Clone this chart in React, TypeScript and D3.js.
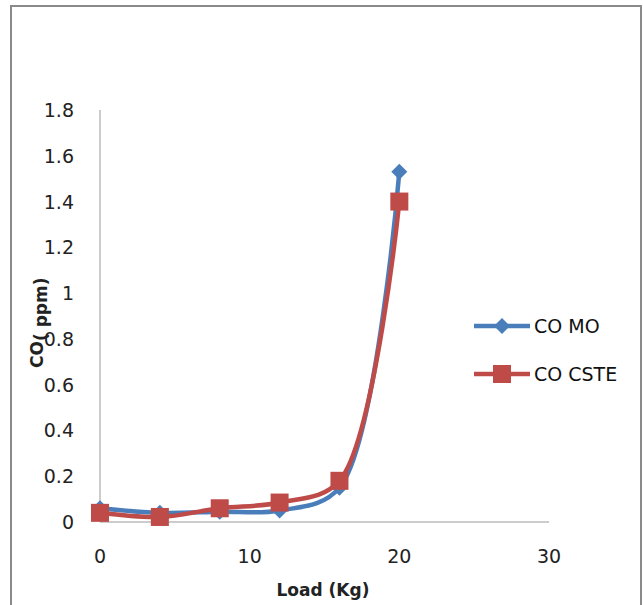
import React from "react";
import * as d3 from "d3";

const loads = [0, 4, 8, 12, 16, 20];
const coMO = [0.06, 0.04, 0.045, 0.05, 0.15, 1.53];
const coCSTE = [0.04, 0.022, 0.06, 0.085, 0.18, 1.4];
const yTicks = [0, 0.2, 0.4, 0.6, 0.8, 1, 1.2, 1.4, 1.6, 1.8];
const xTicks = [0, 10, 20, 30];
const seriesNames = ["CO MO", "CO CSTE"];

const W = 643, H = 605;
const x = d3.scaleLinear().domain([0, 30]).range([100, 549]);
const y = d3.scaleLinear().domain([0, 1.8]).range([522, 110]);
const font = "'DejaVu Sans', sans-serif";
const blue = "#4A7EBB";
const red = "#BE4B48";

export default function App() {
  const line = d3
    .line<number>()
    .x((_, i) => x(loads[i]))
    .y((d) => y(d))
    .curve(d3.curveCatmullRom.alpha(0.5));
  const diamond = (cx: number, cy: number, r: number) =>
    `M${cx},${cy - r}L${cx + r},${cy}L${cx},${cy + r}L${cx - r},${cy}Z`;
  return (
    <svg width={W} height={H} style={{ position: "absolute", left: 0, top: 0, background: "#fff" }}>
      <rect x={11} y={6} width={630} height={620} fill="#fff" stroke="#8a8a8a" strokeWidth={2} />
      <line x1={x(0)} x2={x(0)} y1={y(1.8)} y2={y(0)} stroke="#999" strokeWidth={1} />
      <line x1={x(0)} x2={x(30)} y1={y(0)} y2={y(0)} stroke="#999" strokeWidth={1} />
      {yTicks.map((t) => (
        <text key={t} x={74} y={y(t) + 7} textAnchor="end" fontFamily={font} fontSize={19} fill="#222">
          {String(t)}
        </text>
      ))}
      {xTicks.map((t) => (
        <text key={t} x={x(t)} y={563} textAnchor="middle" fontFamily={font} fontSize={19} fill="#222">
          {String(t)}
        </text>
      ))}
      <text x={323} y={596} textAnchor="middle" fontFamily={font} fontSize={17} fontWeight="bold" fill="#222">
        Load (Kg)
      </text>
      <text
        transform={`translate(43,368) rotate(-90)`}
        fontFamily={font}
        fontSize={17}
        fontWeight="bold"
        fill="#222"
      >
        CO<tspan dy={4}>( ppm)</tspan>
      </text>
      <path d={line(coMO) || ""} fill="none" stroke={blue} strokeWidth={4.5} />
      <path d={line(coCSTE) || ""} fill="none" stroke={red} strokeWidth={4.5} />
      {coMO.map((v, i) => (
        <path key={"m" + i} d={diamond(x(loads[i]), y(v), 8)} fill={blue} />
      ))}
      {coCSTE.map((v, i) => (
        <rect key={"c" + i} x={x(loads[i]) - 9} y={y(v) - 9} width={18} height={18} fill={red} />
      ))}
      <line x1={474} x2={530} y1={326} y2={326} stroke={blue} strokeWidth={4.5} />
      <path d={diamond(502, 326, 8)} fill={blue} />
      <text x={534} y={333} fontFamily={font} fontSize={19} fill="#111">{seriesNames[0]}</text>
      <line x1={474} x2={530} y1={374} y2={374} stroke={red} strokeWidth={4.5} />
      <rect x={493} y={365} width={18} height={18} fill={red} />
      <text x={534} y={381} fontFamily={font} fontSize={19} fill="#111">{seriesNames[1]}</text>
    </svg>
  );
}
